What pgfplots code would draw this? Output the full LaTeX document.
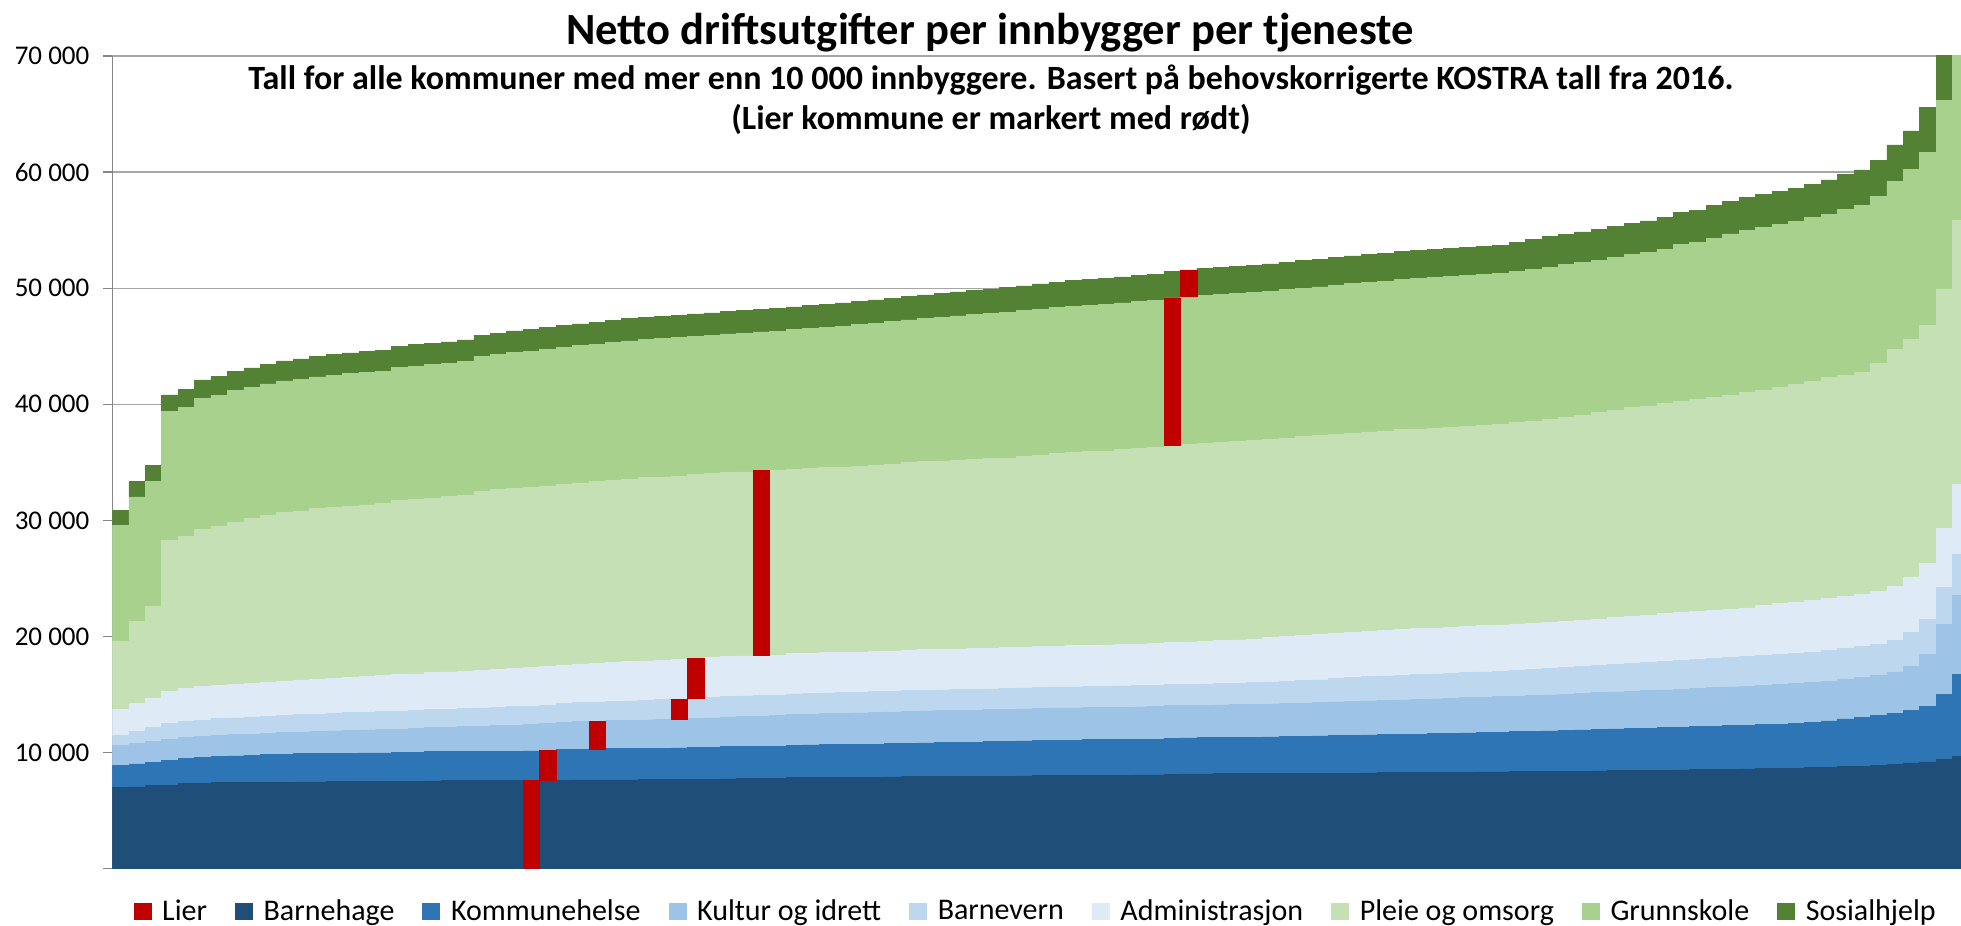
\documentclass[border=0pt]{standalone}
\usepackage{fontspec}
\setmainfont{Carlito}
\usepackage{pgfplots}
\usepackage{pgfplotstable}
\pgfplotsset{compat=1.18}

\definecolor{lierred}{HTML}{C00000}
\definecolor{barnehage}{HTML}{1F4E79}
\definecolor{kommunehelse}{HTML}{2E75B6}
\definecolor{kultur}{HTML}{9DC3E6}
\definecolor{barnevern}{HTML}{BDD7EE}
\definecolor{admin}{HTML}{DEEBF7}
\definecolor{pleie}{HTML}{C5E0B4}
\definecolor{grunnskole}{HTML}{A9D18E}
\definecolor{sosialhjelp}{HTML}{548235}
\definecolor{axisgray}{HTML}{868686}
\definecolor{gridgray}{HTML}{A6A6A6}

% kommuner sortert per tjeneste (kr per innbygger)
\pgfplotstableread{
n B K Ku Bv A P G S
0 7000 1900 1720 850 2220 5880 10000 1300
1 7050 1970 1740 1080 2400 7090 10690 1310
2 7150 1990 1790 1230 2540 7900 10780 1380
3 7200 2120 1810 1400 2740 13010 11090 1440
4 7330 2170 1810 1410 2800 13100 11120 1520
5 7350 2220 1815 1420 2870 13550 11290 1580
6 7400 2260 1820 1440 2880 13690 11290 1620
7 7420 2300 1825 1450 2900 13970 11300 1650
8 7430 2340 1830 1470 2920 14160 11300 1680
9 7440 2380 1835 1480 2950 14350 11320 1700
10 7450 2420 1840 1490 2970 14500 11340 1720
11 7480 2430 1860 1500 2990 14560 11350 1740
12 7480 2440 1880 1510 3010 14680 11360 1760
13 7490 2450 1920 1520 3040 14700 11370 1780
14 7490 2460 1950 1530 3060 14760 11380 1800
15 7500 2470 1980 1540 3080 14770 11390 1810
16 7500 2480 2000 1545 3100 14820 11400 1820
17 7510 2500 2020 1550 3130 15020 11460 1830
18 7520 2510 2040 1555 3150 15040 11470 1840
19 7560 2520 2060 1560 3180 15060 11470 1845
20 7570 2530 2080 1565 3200 15100 11475 1850
21 7570 2535 2120 1570 3220 15150 11520 1855
22 7580 2540 2160 1575 3240 15420 11580 1860
23 7580 2545 2200 1580 3260 15490 11610 1865
24 7580 2550 2240 1585 3280 15510 11700 1870
25 7590 2550 2280 1590 3310 15550 11710 1875
26 7620 2555 2310 1600 3330 15560 11760 1880
27 7630 2640 2340 1610 3340 15570 11780 1885
28 7640 2660 2370 1620 3350 15590 11810 1890
29 7640 2680 2390 1630 3360 15650 11840 1895
30 7650 2700 2420 1640 3370 15680 11870 1900
31 7650 2710 2430 1660 3375 15750 11890 1905
32 7660 2720 2440 1690 3380 15780 11900 1910
33 7660 2730 2450 1720 3385 15790 11910 1915
34 7670 2740 2460 1760 3390 15800 11915 1920
35 7680 2750 2500 1765 3430 15810 11920 1925
36 7690 2760 2540 1770 3435 15820 11930 1930
37 7740 2765 2570 1770 3440 15830 11940 1935
38 7750 2770 2590 1775 3440 15850 11950 1940
39 7760 2775 2610 1775 3445 15910 11960 1945
40 7770 2780 2620 1780 3450 15910 11980 1950
41 7850 2790 2640 1780 3450 15915 12000 1960
42 7860 2800 2660 1780 3455 15920 12050 1970
43 7870 2805 2680 1785 3455 15940 12110 1980
44 7870 2810 2700 1785 3460 15955 12160 1990
45 7880 2820 2710 1785 3460 16000 12200 2000
46 7890 2840 2730 1790 3465 16045 12220 2010
47 7900 2860 2740 1790 3465 16100 12250 2020
48 7940 2880 2745 1790 3470 16165 12270 2030
49 7950 2890 2750 1795 3475 16210 12320 2040
50 7950 2900 2750 1795 3480 16255 12360 2050
51 7960 2920 2755 1795 3490 16290 12400 2070
52 7960 2940 2760 1800 3500 16320 12440 2090
53 7970 2960 2760 1800 3505 16330 12500 2110
54 7980 2990 2765 1800 3510 16345 12550 2130
55 7990 3010 2765 1805 3515 16410 12560 2150
56 8030 3020 2770 1805 3520 16475 12580 2170
57 8040 3030 2770 1810 3530 16560 12590 2190
58 8040 3040 2775 1810 3540 16645 12600 2200
59 8050 3060 2775 1815 3550 16670 12610 2210
60 8050 3070 2780 1815 3560 16695 12620 2220
61 8060 3075 2780 1820 3580 16780 12630 2240
62 8070 3080 2785 1820 3590 16855 12640 2260
63 8080 3085 2790 1825 3610 16890 12650 2280
64 8150 3090 2790 1830 3620 17000 12690 2300
65 8160 3100 2795 1835 3640 17040 12700 2310
66 8170 3110 2800 1840 3660 17050 12720 2320
67 8180 3120 2810 1850 3690 17060 12740 2330
68 8180 3130 2820 1860 3720 17070 12745 2340
69 8190 3140 2830 1880 3760 17080 12750 2350
70 8200 3150 2840 1900 3800 17090 12760 2360
71 8200 3170 2850 1920 3850 17100 12780 2370
72 8210 3190 2860 1940 3900 17110 12800 2380
73 8220 3210 2870 1960 3910 17120 12820 2390
74 8230 3240 2890 2000 3920 17130 12840 2395
75 8240 3260 2910 2040 3930 17140 12860 2400
76 8250 3270 2930 2080 3940 17150 12880 2405
77 8260 3280 2950 2110 3950 17160 12900 2410
78 8270 3300 2970 2130 3955 17180 12920 2415
79 8280 3310 2990 2140 3960 17200 12940 2420
80 8300 3320 3010 2150 3965 17220 12960 2425
81 8310 3340 3020 2160 3970 17240 12970 2430
82 8320 3370 3030 2170 3975 17250 12980 2435
83 8330 3400 3040 2180 3980 17260 12985 2440
84 8340 3420 3060 2200 3985 17270 12990 2450
85 8350 3450 3070 2220 3990 17340 13030 2500
86 8370 3470 3090 2240 3995 17400 13040 2600
87 8380 3490 3100 2260 4000 17470 13100 2630
88 8400 3520 3120 2280 4005 17570 13120 2640
89 8410 3550 3140 2310 4010 17650 13130 2650
90 8430 3570 3160 2340 4020 17760 13140 2660
91 8450 3590 3180 2380 4030 17840 13150 2680
92 8460 3620 3200 2420 4040 17960 13190 2700
93 8470 3640 3220 2460 4060 18000 13220 2720
94 8490 3670 3240 2480 4080 18120 13240 2750
95 8510 3690 3250 2490 4100 18240 13470 2770
96 8530 3710 3280 2500 4110 18290 13530 2780
97 8550 3730 3310 2510 4120 18350 13750 2790
98 8570 3750 3340 2520 4130 18460 13900 2800
99 8590 3770 3370 2540 4200 18530 14000 2810
100 8610 3790 3390 2570 4290 18550 14040 2820
101 8640 3820 3400 2600 4360 18610 14050 2830
102 8670 3860 3410 2620 4400 18750 14060 2850
103 8700 3900 3420 2630 4440 18910 14070 2870
104 8730 4000 3430 2640 4450 19040 14080 2950
105 8780 4120 3440 2650 4460 19050 14280 3000
106 8830 4170 3460 2660 4550 19100 14380 3040
107 8880 4320 3480 2670 4560 19580 14410 3100
108 9000 4400 3550 2690 4690 20390 14470 3150
109 9110 4540 3800 2900 4750 20480 14620 3350
110 9190 4760 4500 3050 4800 20500 14910 3850
111 9390 5620 6060 3140 5130 20600 16200 3900
112 9680 7060 6800 3580 5980 22790 16400 4200
}\kostra

\pgfplotsset{
  svc/.style={fill=#1, draw=#1, line width=0.3pt,
    legend image code/.code={\fill[#1] (0pt,-4pt) rectangle (8.5pt,4pt);}},
}

\begin{document}
\begin{tikzpicture}
\begin{axis}[
    name=ax,
    scale only axis,
    width=924.3pt, height=406.35pt,
    xmin=-0.5, xmax=112.01,
    ymin=0, ymax=70000,
    ybar stacked, bar width=1,
    axis x line=bottom, axis y line=left,
    axis line style={-, draw=axisgray, line width=0.6pt},
    xtick=\empty,
    ytick={0,10000,20000,30000,40000,50000,60000,70000},
    yticklabels={{},10 000,20 000,30 000,40 000,50 000,60 000,70 000},
    scaled y ticks=false,
    tick align=outside, major tick length=4.5pt,
    ytick style={draw=axisgray, line width=0.6pt},
    yticklabel style={font=\fontsize{13.5}{16}\selectfont, xshift=-3.5pt},
    ymajorgrids, grid style={draw=gridgray, line width=0.6pt},
    legend columns=9,
    legend style={at={(0.5,-0.0525)}, anchor=center, draw=none, fill=none,
      font=\fontsize{15}{18}\selectfont,
      /tikz/every odd column/.append style={column sep=3.5pt},
      /tikz/every even column/.append style={column sep=12pt}},
]
\addlegendimage{svc=lierred}\addlegendentry{Lier}
\addplot[svc=barnehage] table[x=n, y=B] {\kostra}; \addlegendentry{Barnehage}
\addplot[svc=kommunehelse] table[x=n, y=K] {\kostra}; \addlegendentry{Kommunehelse}
\addplot[svc=kultur] table[x=n, y=Ku] {\kostra}; \addlegendentry{Kultur og idrett}
\addplot[svc=barnevern] table[x=n, y=Bv] {\kostra}; \addlegendentry{Barnevern}
\addplot[svc=admin] table[x=n, y=A] {\kostra}; \addlegendentry{Administrasjon}
\addplot[svc=pleie] table[x=n, y=P] {\kostra}; \addlegendentry{Pleie og omsorg}
\addplot[svc=grunnskole] table[x=n, y=G] {\kostra}; \addlegendentry{Grunnskole}
\addplot[svc=sosialhjelp] table[x=n, y=S] {\kostra}; \addlegendentry{Sosialhjelp}
\end{axis}

% Lier markert med rødt, en bit per tjeneste
\begin{axis}[
    at={(ax.south west)}, anchor=south west,
    scale only axis,
    width=924.3pt, height=406.35pt,
    xmin=-0.5, xmax=112.01,
    ymin=0, ymax=70000,
    axis lines=none,
]
\addplot[fill=lierred, draw=lierred, line width=0.3pt] coordinates {(24.5,0) (25.5,0) (25.5,7590) (24.5,7590)} -- cycle;
\addplot[fill=lierred, draw=lierred, line width=0.3pt] coordinates {(25.5,7620) (26.5,7620) (26.5,10175) (25.5,10175)} -- cycle;
\addplot[fill=lierred, draw=lierred, line width=0.3pt] coordinates {(28.5,10320) (29.5,10320) (29.5,12710) (28.5,12710)} -- cycle;
\addplot[fill=lierred, draw=lierred, line width=0.3pt] coordinates {(33.5,12870) (34.5,12870) (34.5,14630) (33.5,14630)} -- cycle;
\addplot[fill=lierred, draw=lierred, line width=0.3pt] coordinates {(34.5,14695) (35.5,14695) (35.5,18125) (34.5,18125)} -- cycle;
\addplot[fill=lierred, draw=lierred, line width=0.3pt] coordinates {(38.5,18365) (39.5,18365) (39.5,34275) (38.5,34275)} -- cycle;
\addplot[fill=lierred, draw=lierred, line width=0.3pt] coordinates {(63.5,36480) (64.5,36480) (64.5,49170) (63.5,49170)} -- cycle;
\addplot[fill=lierred, draw=lierred, line width=0.3pt] coordinates {(64.5,49270) (65.5,49270) (65.5,51580) (64.5,51580)} -- cycle;
\end{axis}

\node[anchor=base, font=\fontsize{22.3}{26}\selectfont\bfseries]
  at ([xshift=438.8pt, yshift=5.5pt]ax.north west)
  {Netto driftsutgifter per innbygger per tjeneste};
\node[anchor=base, font=\fontsize{17}{20}\selectfont\bfseries]
  at ([xshift=439.3pt, yshift=-17pt]ax.north west)
  {Tall for alle kommuner med mer enn 10 000 innbyggere. Basert på behovskorrigerte KOSTRA tall fra 2016.};
\node[anchor=base, font=\fontsize{17}{20}\selectfont\bfseries]
  at ([xshift=439.3pt, yshift=-37pt]ax.north west)
  {(Lier kommune er markert med rødt)};

\pgfresetboundingbox
\path ([xshift=-56.2pt, yshift=-28.65pt]ax.south west) rectangle ([yshift=28pt]ax.north east);
\end{tikzpicture}
\end{document}
